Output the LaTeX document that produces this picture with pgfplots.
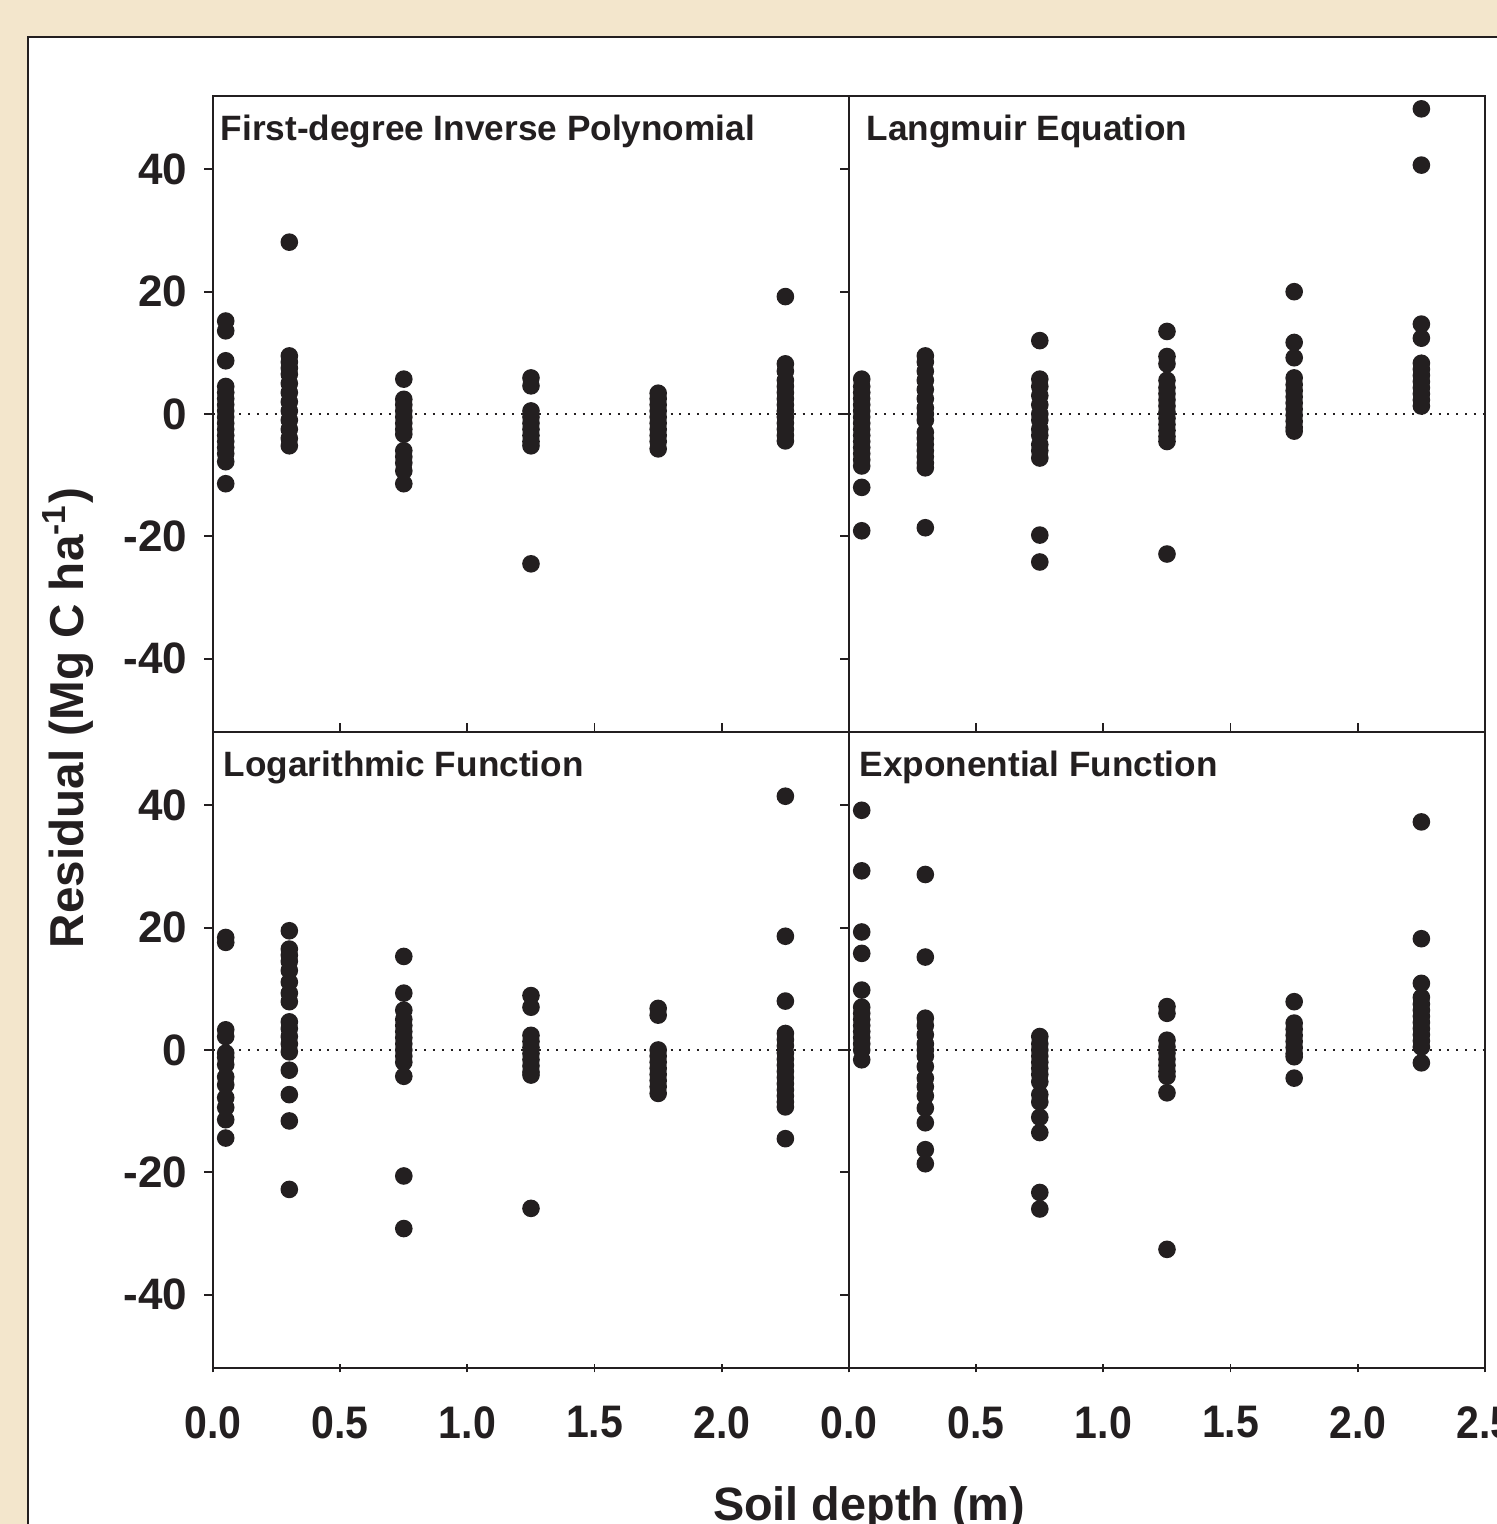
\documentclass[border=0pt]{standalone}
\usepackage{pgfplots}
\pgfplotsset{compat=1.18}
\usepackage{fontspec}
\setmainfont{Liberation Sans}
\newfontfamily\xtickfont[FakeStretch=0.9]{Liberation Sans}
\definecolor{beige}{RGB}{243,230,204}
\definecolor{ink}{RGB}{35,31,32}

\pgfplotsset{
  panel/.style={
    scale only axis, width=159pt, height=159pt,
    xmin=0, xmax=2.5, ymin=-52, ymax=52,
    xtick={0,0.5,1,1.5,2,2.5}, ytick={-40,-20,0,20,40},
    xtick pos=left, ytick pos=left,
    axis line style={ink, line width=0.45pt},
    tick style={ink, line width=0.45pt},
    major tick length=2.2pt,
    ytick align=outside,
    tick label style={font=\fontsize{11}{13}\selectfont\bfseries, text=ink},
    yticklabels={-40,-20,0,20,40},
    yticklabel style={xshift=-0.75pt},
    xticklabel style={yshift=-5pt, font=\xtickfont\fontsize{11.4}{13}\selectfont\bfseries},
  },
  dots/.style={only marks, mark=*, mark size=2pt, ink, mark options={fill=ink, draw=ink}},
  zero/.style={ink, line width=0.5pt, dash pattern=on 0.5pt off 1.7pt},
}
\tikzset{ttl/.style={anchor=base west, font=\fontsize{8.8}{10}\selectfont\bfseries, text=ink, inner sep=0pt}}

\begin{document}
\begin{tikzpicture}
\useasboundingbox (0,0) rectangle (374.25pt,-381pt);
\clip (0,0) rectangle (374.25pt,-381pt);
\fill[beige] (0,0) rectangle (374.25pt,-381pt);
\draw[ink, line width=0.5pt, fill=white] (7pt,-9.25pt) rectangle (400pt,-420pt);

% Top-left
\begin{axis}[panel, at={(53.25pt,-24pt)}, anchor=north west, xticklabels={}, xtick align=inside]
\addplot[zero] coordinates {(0,0) (2.5,0)};
\addplot[dots] coordinates {
(0.05,15.2)(0.05,13.6)(0.05,8.7)(0.05,4.5)(0.05,3.5)(0.05,2.5)(0.05,1.5)(0.05,0.5)(0.05,-0.5)(0.05,-1.5)(0.05,-2.5)(0.05,-3.5)(0.05,-4.5)(0.05,-5.5)(0.05,-6.5)(0.05,-7.8)(0.05,-11.4)
(0.3,28.1)(0.3,9.5)(0.3,8.5)(0.3,7.5)(0.3,6.5)(0.3,5.0)(0.3,3.5)(0.3,2.0)(0.3,0.5)(0.3,-1.0)(0.3,-2.5)(0.3,-4.0)(0.3,-5.2)
(0.75,5.7)(0.75,2.4)(0.75,1.5)(0.75,0.5)(0.75,-0.5)(0.75,-1.5)(0.75,-2.5)(0.75,-3.3)(0.75,-6.0)(0.75,-7.0)(0.75,-8.0)(0.75,-9.3)(0.75,-11.4)
(1.25,5.9)(1.25,4.6)(1.25,0.5)(1.25,-0.5)(1.25,-1.5)(1.25,-2.5)(1.25,-3.5)(1.25,-4.5)(1.25,-5.2)(1.25,-24.5)
(1.75,3.4)(1.75,2.5)(1.75,1.5)(1.75,0.5)(1.75,-0.5)(1.75,-1.5)(1.75,-2.5)(1.75,-3.5)(1.75,-4.5)(1.75,-5.7)
(2.25,19.2)(2.25,8.2)(2.25,7.0)(2.25,5.5)(2.25,4.5)(2.25,3.5)(2.25,2.5)(2.25,1.5)(2.25,0.5)(2.25,-0.5)(2.25,-1.5)(2.25,-2.5)(2.25,-3.5)(2.25,-4.4)
};
\node[ttl, xshift=1.75pt, yshift=-11pt] at (rel axis cs:0,1) {First-degree Inverse Polynomial};
\end{axis}

% Top-right
\begin{axis}[panel, at={(212.25pt,-24pt)}, anchor=north west, xticklabels={}, yticklabels={}, xtick align=inside]
\addplot[zero] coordinates {(0,0) (2.5,0)};
\addplot[dots] coordinates {
(0.05,5.7)(0.05,4.5)(0.05,3.5)(0.05,2.5)(0.05,1.5)(0.05,0.5)(0.05,-0.5)(0.05,-1.5)(0.05,-2.5)(0.05,-3.5)(0.05,-4.5)(0.05,-5.5)(0.05,-6.5)(0.05,-7.5)(0.05,-8.5)(0.05,-12.0)(0.05,-19.1)
(0.3,9.5)(0.3,8.5)(0.3,7.0)(0.3,5.5)(0.3,4.0)(0.3,2.5)(0.3,1.0)(0.3,0.0)(0.3,-1.0)(0.3,-3.0)(0.3,-4.0)(0.3,-5.0)(0.3,-6.0)(0.3,-7.0)(0.3,-8.0)(0.3,-8.8)(0.3,-18.6)
(0.75,12.0)(0.75,5.7)(0.75,4.5)(0.75,3.0)(0.75,1.5)(0.75,0.0)(0.75,-1.0)(0.75,-2.5)(0.75,-3.5)(0.75,-5.0)(0.75,-6.0)(0.75,-7.2)(0.75,-19.8)(0.75,-24.2)
(1.25,13.5)(1.25,9.4)(1.25,8.2)(1.25,5.5)(1.25,4.3)(1.25,3.3)(1.25,2.3)(1.25,1.3)(1.25,0.3)(1.25,-0.7)(1.25,-1.7)(1.25,-2.7)(1.25,-3.7)(1.25,-4.5)(1.25,-22.9)
(1.75,20.0)(1.75,11.7)(1.75,9.2)(1.75,5.9)(1.75,4.8)(1.75,3.8)(1.75,2.8)(1.75,1.8)(1.75,0.8)(1.75,-0.2)(1.75,-1.2)(1.75,-2.2)(1.75,-2.8)
(2.25,49.9)(2.25,40.7)(2.25,14.7)(2.25,12.4)(2.25,8.3)(2.25,7.3)(2.25,6.3)(2.25,5.3)(2.25,4.3)(2.25,3.3)(2.25,2.3)(2.25,1.3)
};
\node[ttl, xshift=4.25pt, yshift=-11pt] at (rel axis cs:0,1) {Langmuir Equation};
\end{axis}

% Bottom-left
\begin{axis}[panel, at={(53.25pt,-183pt)}, anchor=north west, xticklabels={0.0,0.5,1.0,1.5,2.0,}, xtick align=center]
\addplot[zero] coordinates {(0,0) (2.5,0)};
\addplot[dots] coordinates {
(0.05,18.4)(0.05,17.6)(0.05,3.3)(0.05,2.2)(0.05,-0.5)(0.05,-1.2)(0.05,-2.4)(0.05,-4.4)(0.05,-5.7)(0.05,-7.8)(0.05,-9.4)(0.05,-11.4)(0.05,-14.4)
(0.3,19.5)(0.3,16.5)(0.3,15.5)(0.3,14.5)(0.3,13.0)(0.3,11.1)(0.3,9.3)(0.3,7.9)(0.3,4.6)(0.3,3.5)(0.3,2.2)(0.3,1.0)(0.3,-0.3)(0.3,-3.3)(0.3,-7.3)(0.3,-11.6)(0.3,-22.8)
(0.75,15.3)(0.75,9.3)(0.75,6.5)(0.75,5.0)(0.75,4.0)(0.75,3.0)(0.75,2.0)(0.75,1.0)(0.75,0.0)(0.75,-1.0)(0.75,-2.0)(0.75,-4.3)(0.75,-20.6)(0.75,-29.2)
(1.25,8.9)(1.25,7.0)(1.25,2.4)(1.25,1.4)(1.25,0.4)(1.25,-0.6)(1.25,-1.6)(1.25,-2.6)(1.25,-3.6)(1.25,-4.1)(1.25,-25.9)
(1.75,6.8)(1.75,5.7)(1.75,0.0)(1.75,-1.0)(1.75,-2.0)(1.75,-3.0)(1.75,-4.0)(1.75,-5.0)(1.75,-6.0)(1.75,-7.1)
(2.25,41.5)(2.25,18.6)(2.25,8.0)(2.25,2.7)(2.25,1.7)(2.25,0.7)(2.25,-0.5)(2.25,-1.5)(2.25,-2.5)(2.25,-3.5)(2.25,-4.5)(2.25,-5.5)(2.25,-6.5)(2.25,-7.5)(2.25,-8.5)(2.25,-9.3)(2.25,-14.5)
};
\node[ttl, xshift=2.5pt, yshift=-11pt] at (rel axis cs:0,1) {Logarithmic Function};
\end{axis}

% Bottom-right
\begin{axis}[panel, at={(212.25pt,-183pt)}, anchor=north west, yticklabels={}, xticklabels={0.0,0.5,1.0,1.5,2.0,2.5}, xtick align=center]
\addplot[zero] coordinates {(0,0) (2.5,0)};
\addplot[dots] coordinates {
(0.05,39.2)(0.05,29.3)(0.05,19.3)(0.05,15.8)(0.05,9.8)(0.05,7.0)(0.05,6.0)(0.05,5.0)(0.05,4.0)(0.05,3.0)(0.05,2.0)(0.05,1.0)(0.05,0.0)(0.05,-1.6)
(0.3,28.7)(0.3,15.2)(0.3,5.2)(0.3,4.0)(0.3,2.5)(0.3,1.0)(0.3,0.0)(0.3,-1.0)(0.3,-2.7)(0.3,-4.6)(0.3,-6.0)(0.3,-7.5)(0.3,-9.5)(0.3,-11.9)(0.3,-16.3)(0.3,-18.6)
(0.75,2.2)(0.75,1.0)(0.75,0.0)(0.75,-1.0)(0.75,-2.0)(0.75,-3.0)(0.75,-4.0)(0.75,-5.2)(0.75,-7.3)(0.75,-8.5)(0.75,-11.0)(0.75,-13.5)(0.75,-23.3)(0.75,-26.0)
(1.25,7.1)(1.25,6.0)(1.25,1.6)(1.25,0.5)(1.25,-0.5)(1.25,-1.5)(1.25,-2.5)(1.25,-3.5)(1.25,-4.3)(1.25,-7.0)(1.25,-32.6)
(1.75,7.9)(1.75,4.4)(1.75,3.4)(1.75,2.4)(1.75,1.4)(1.75,0.4)(1.75,-0.6)(1.75,-1.1)(1.75,-4.6)
(2.25,37.3)(2.25,18.2)(2.25,10.9)(2.25,8.6)(2.25,7.5)(2.25,6.5)(2.25,5.5)(2.25,4.5)(2.25,3.5)(2.25,2.5)(2.25,1.5)(2.25,0.5)(2.25,-2.1)
};
\node[ttl, xshift=2.5pt, yshift=-11pt] at (rel axis cs:0,1) {Exponential Function};
\end{axis}

\node[rotate=90, font=\fontsize{11.9}{14}\selectfont\bfseries, text=ink] at (17pt,-179.5pt) {Residual (Mg C ha\textsuperscript{-1})};
\node[anchor=base, font=\fontsize{11.7}{14}\selectfont\bfseries, text=ink] at (217.25pt,-380pt) {Soil depth (m)};
\end{tikzpicture}
\end{document}
